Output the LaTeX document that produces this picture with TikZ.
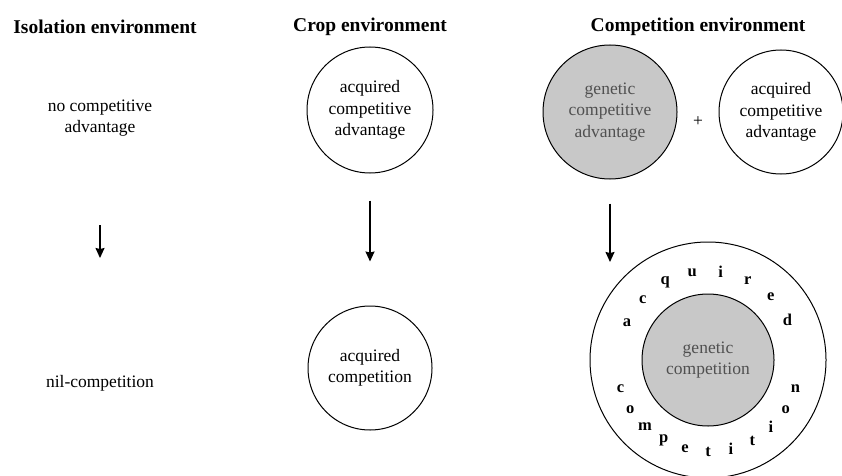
\documentclass[tikz,border=0pt]{standalone}
\usepackage{fontspec}
\setmainfont{Liberation Serif}
\usetikzlibrary{arrows.meta, calc}
\definecolor{shadegray}{HTML}{C8C8C8}
\definecolor{textgray}{HTML}{505050}

\begin{document}
\begin{tikzpicture}[x=1pt, y=1pt,
  every node/.style={font=\fontsize{17.5}{21.5}\selectfont},
  heading/.style={font=\fontsize{19.5}{23}\selectfont\bfseries},
  label/.style={align=center},
  bubble/.style={draw, circle, line width=1pt, inner sep=0pt, align=center},
  genbubble/.style={bubble, fill=shadegray, text=textgray},
  arr/.style={-{Stealth[length=10pt, width=9pt, inset=1pt]}, line width=1.4pt},
  ringletter/.style={font=\fontsize{16.5}{18}\selectfont\bfseries, inner sep=0pt},
]
  \useasboundingbox (0,0) rectangle (842,475);

  % column headings
  \node[heading] (isohead)  at (105, 448) {Isolation environment};
  \node[heading] (crophead) at (370, 448) {Crop environment};
  \node[heading] (comphead) at (698, 448) {Competition environment};

  % isolation column
  \node[label] (noadv) at (100, 357) {no competitive\\advantage};
  \node[label] (nilcomp) at (100, 92) {nil-competition};
  \coordinate (isotop) at (100, 250);
  \coordinate (isobot) at (100, 217);
  \draw[arr] (isotop) -- (isobot);

  % crop column
  \node[bubble, minimum size=126pt] (cropadv) at (370, 365)
    {acquired\\competitive\\advantage};
  \node[bubble, minimum size=124pt] (cropcomp) at (370, 107)
    {acquired\\competition};
  \draw[arr, shorten <=27pt, shorten >=44pt] (cropadv.south) -- (cropcomp.north);

  % competition column
  \node[genbubble, minimum size=134pt] (genadv) at (610, 363)
    {genetic\\competitive\\advantage};
  \node (plus) at (698, 353) {+};
  \node[bubble, minimum size=124pt] (acqadv) at (781, 363)
    {acquired\\competitive\\advantage};

  \node[bubble, minimum size=236pt] (outer) at (708, 115) {};
  \node[genbubble, minimum size=132pt] (gencomp) at (708, 115)
    {genetic\\competition};
  \coordinate (compend) at (610, 213);
  \draw[arr, shorten <=24pt] (genadv.south) -- (compend);

  % letters round the ring
  \foreach \ch [count=\i] in {a,c,q,u,i,r,e,d}
    \node[ringletter] (top\i) at ($(outer.center)+({155.5-(\i-1)*18.4}:89)$) {\ch};
  \foreach \ch [count=\i] in {c,o,m,p,e,t,i,t,i,o,n}
    \node[ringletter] (bot\i) at ($(outer.center)+({198+(\i-1)*14.4}:92)$) {\ch};
\end{tikzpicture}
\end{document}
